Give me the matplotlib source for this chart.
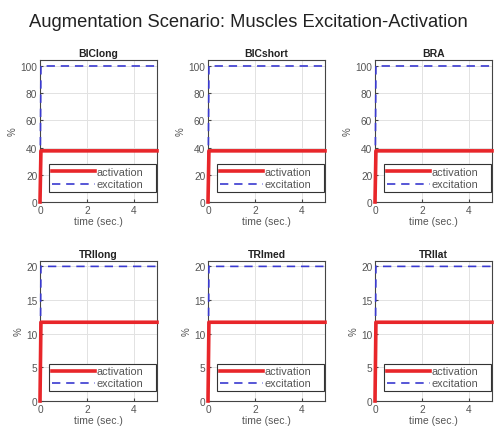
import matplotlib
matplotlib.use('Agg')
from matplotlib import pyplot as plt

plt.rcParams['font.family'] = ['Liberation Sans', 'DejaVu Sans']

#
# muscle names and step levels (percent)
# --------------------------------------
#
muscles = ['BIClong', 'BICshort', 'BRA', 'TRIlong', 'TRImed', 'TRIlat']
time = [0.0, 0.04, 5.0]
activation = [[0, 37.6, 37.6], [0, 37.6, 37.6], [0, 37.6, 37.6],
              [0, 11.7, 11.7], [0, 11.7, 11.7], [0, 11.7, 11.7]]
excitation = [[0, 100, 100], [0, 100, 100], [0, 100, 100],
              [0, 20, 20], [0, 20, 20], [0, 20, 20]]
yticks = [[0, 20, 40, 60, 80, 100]] * 3 + [[0, 5, 10, 15, 20]] * 3
ytop = [104.4] * 3 + [20.8] * 3

fig = plt.figure(figsize=(4.96, 4.35), dpi=100)
fig.suptitle('Augmentation Scenario: Muscles Excitation-Activation',
             fontsize=13.2, y=0.968, color='#222222')

lefts = [40, 208, 375]
rows = [(61, 203), (262, 402)]
W, H = 496.0, 435.0

for i, name in enumerate(muscles):
    top, bot = rows[i // 3]
    ax = fig.add_axes([lefts[i % 3] / W, 1 - bot / H, 117 / W, (bot - top) / H])
    ax.plot(time, activation[i], color='#e8262a', lw=2.6, label='activation',
            clip_on=False, zorder=4)
    ax.plot(time, excitation[i], color='#3a3ad0', lw=1.2, ls=(0, (5, 3.5)),
            label='excitation', clip_on=False, zorder=3)
    ax.set_xlim(0, 5)
    ax.set_ylim(0, ytop[i])
    ax.set_xticks([0, 2, 4])
    ax.set_yticks(yticks[i])
    ax.grid(True, color='#e2e2e2', lw=0.7)
    ax.set_axisbelow(True)
    ax.tick_params(direction='in', labelsize=7.3, length=2, colors='#444444',
                   labelcolor='#555555', pad=2)
    for s in ax.spines.values():
        s.set_color('#444444')
        s.set_linewidth(0.8)
    ax.set_title(name, fontsize=7.5, fontweight='bold', pad=3, color='#222222')
    ax.set_xlabel('time (sec.)', fontsize=7.5, labelpad=1, color='#555555')
    ax.set_ylabel('%', fontsize=7, labelpad=2, color='#555555')
    leg = ax.legend(loc='lower left', bbox_to_anchor=(0.08, 0.07, 0.91, 0.25),
                    mode='expand', fontsize=7.8, handlelength=4.0,
                    handletextpad=0.1, fancybox=False, framealpha=1,
                    edgecolor='#333333', borderaxespad=0, labelspacing=0.2,
                    borderpad=0.25, alignment='right')
    leg.get_frame().set_linewidth(0.8)
    for t in leg.get_texts():
        t.set_color('#555555')

fig.savefig('out.png', dpi=100)
